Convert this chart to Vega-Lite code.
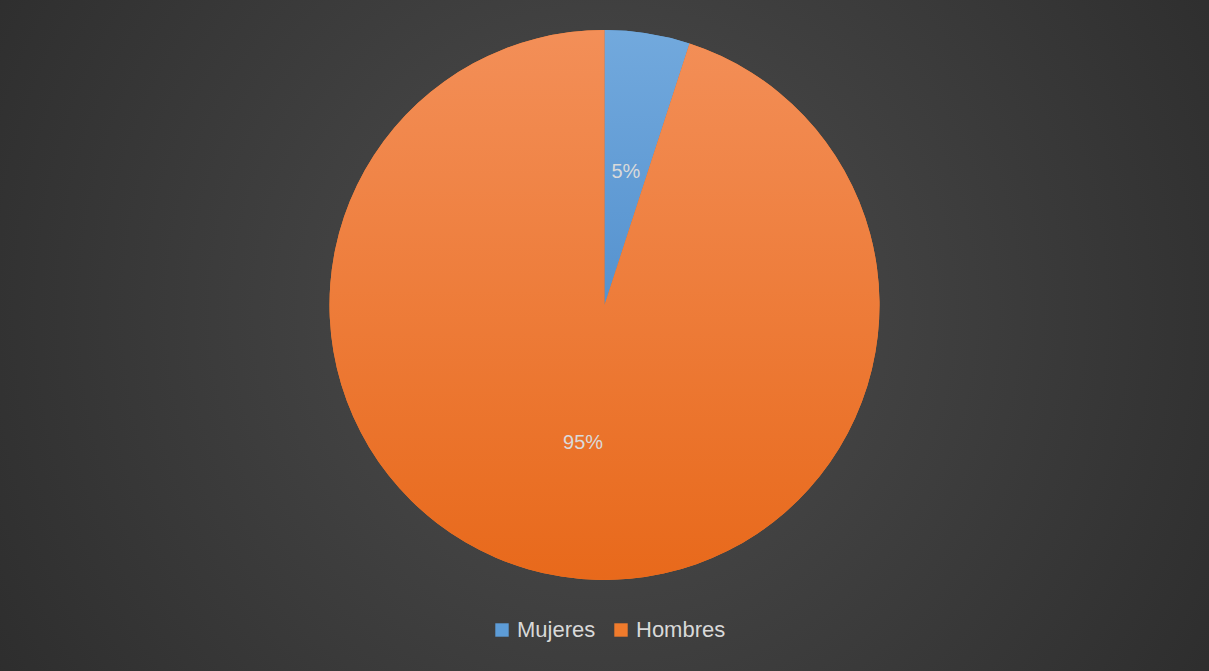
{
  "$schema": "https://vega.github.io/schema/vega-lite/v6.json",
  "width": 1209,
  "height": 610,
  "autosize": {"type": "none"},
  "padding": {"top": 0, "left": 0, "right": 0, "bottom": 61},
  "background": "#333333",
  "config": {"view": {"stroke": null}},
  "data": {
    "values": [
      {"genero": "Mujeres", "valor": 0.05, "orden": 1},
      {"genero": "Hombres", "valor": 0.95, "orden": 2}
    ]
  },
  "layer": [
    {
      "mark": {
        "type": "rect",
        "x": 0, "y": 0,
        "x2": {"expr": "width"},
        "y2": {"expr": "height + 61"},
        "fill": {
          "gradient": "radial",
          "x1": 0.5, "y1": 0.48, "r1": 0,
          "x2": 0.5, "y2": 0.48, "r2": 0.72,
          "stops": [
            {"offset": 0, "color": "#4e4e4e"},
            {"offset": 1, "color": "#262626"}
          ]
        }
      },
      "encoding": {}
    },
    {
      "mark": {"type": "arc", "outerRadius": 275, "stroke": null},
      "encoding": {
        "theta": {"field": "valor", "type": "quantitative", "stack": true},
        "order": {"field": "orden", "type": "quantitative"},
        "color": {
          "field": "genero",
          "type": "nominal",
          "sort": ["Mujeres", "Hombres"],
          "scale": {
            "domain": ["Mujeres", "Hombres"],
            "range": ["#5d9cd7", "#f07b2c"]
          },
          "legend": {
            "title": null,
            "orient": "none",
            "direction": "horizontal",
            "legendX": 491,
            "legendY": 619,
            "symbolType": "square",
            "symbolSize": 180,
            "symbolStrokeWidth": 0,
            "symbolOpacity": 1,
            "labelFont": "Liberation Sans",
            "labelFontSize": 22,
            "labelColor": "#d9d9d9",
            "labelOffset": 4,
            "columnPadding": 14
          }
        }
      }
    },
    {
      "mark": {"type": "arc", "outerRadius": 275, "stroke": null},
      "encoding": {
        "theta": {"field": "valor", "type": "quantitative", "stack": true},
        "order": {"field": "orden", "type": "quantitative"},
        "detail": {"field": "genero", "type": "nominal"},
        "fill": {
          "condition": {
            "test": "datum.genero === 'Mujeres'",
            "value": {"gradient": "linear", "x1": 0, "y1": 0, "x2": 0, "y2": 1,
               "stops": [{"offset": 0, "color": "#72a9dd"}, {"offset": 1, "color": "#5592cf"}]}
          },
          "value": {"gradient": "linear", "x1": 0, "y1": 0, "x2": 0, "y2": 1,
               "stops": [{"offset": 0, "color": "#f38f58"}, {"offset": 1, "color": "#e8691b"}]}
        }
      }
    },
    {
      "mark": {"type": "text", "radius": 137, "dy": 2.5, "font": "Liberation Sans", "fontSize": 20, "fill": "#dadada"},
      "encoding": {
        "theta": {"field": "valor", "type": "quantitative", "stack": true},
        "order": {"field": "orden", "type": "quantitative"},
        "detail": {"field": "genero", "type": "nominal"},
        "text": {"field": "valor", "type": "quantitative", "format": ".0%"}
      }
    }
  ]
}
